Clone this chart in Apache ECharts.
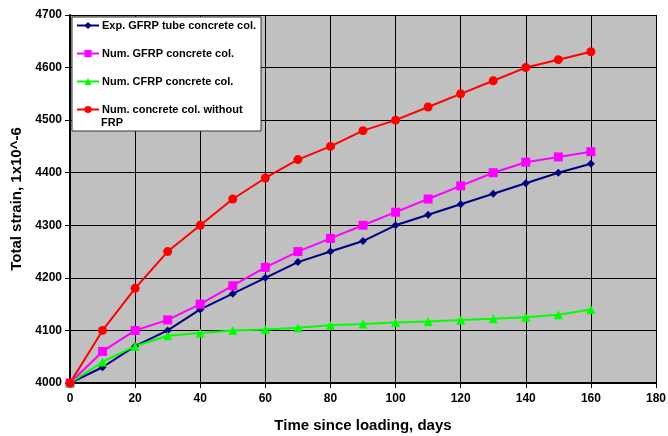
<!DOCTYPE html>
<html>
<head>
<meta charset="utf-8">
<script src="https://cdn.jsdelivr.net/npm/echarts@6/dist/echarts.min.js"></script>
<style>html,body{margin:0;padding:0;background:#fff;}#c{width:668px;height:436px;}</style>
</head>
<body>
<div id="c"></div>
<script>
const days = [0,10,20,30,40,50,60,70,80,90,100,110,120,130,140,150,160];
const expGFRP = [4000,4030,4070,4100,4140,4170,4200,4230,4250,4270,4300,4320,4340,4360,4380,4400,4417];
const numGFRP = [4000,4060,4100,4120,4150,4185,4220,4250,4275,4300,4325,4350,4375,4400,4420,4430,4440];
const numCFRP = [4000,4040,4070,4090,4095,4100,4102,4105,4110,4112,4115,4117,4120,4122,4125,4130,4140];
const numNoFRP = [4000,4100,4180,4250,4300,4350,4390,4425,4450,4480,4500,4525,4550,4575,4600,4615,4630];
const seriesNames = ['Exp. GFRP tube concrete col.','Num. GFRP concrete col.','Num. CFRP concrete col.','Num. concrete col. without'];
const font = 'Liberation Sans, Arial, sans-serif';

function pairs(vals){ return days.map((d,i)=>[d, vals[i]]); }

const chart = echarts.init(document.getElementById('c'), null, {renderer:'canvas'});
const mk = (name, vals, color, symbol, size) => ({
  name, type:'line', data: pairs(vals), symbol, symbolSize: size,
  lineStyle:{color, width:2}, itemStyle:{color}, animation:false
});
chart.setOption({
  animation:false,
  backgroundColor:'#fff',
  grid:{left:70, right:12, top:15, bottom:53, show:true, backgroundColor:'#C0C0C0', borderWidth:0,
    containLabel:false, outerBoundsMode:'none'},
  xAxis:{type:'value', min:0, max:180, interval:20,
    name:'Time since loading, days', nameLocation:'middle', nameGap:35,
    nameTextStyle:{fontFamily:font, fontWeight:'bold', fontSize:15, color:'#000'},
    axisLine:{show:true, lineStyle:{color:'#000', width:2}},
    axisTick:{show:true, length:5, lineStyle:{color:'#000'}},
    axisLabel:{fontFamily:font, fontWeight:'bold', fontSize:12, color:'#000', margin:10},
    splitLine:{show:true, lineStyle:{color:'#000', width:1}}},
  yAxis:{type:'value', min:4000, max:4700, interval:100,
    name:'Total strain, 1x10^-6', nameLocation:'middle', nameGap:41,
    nameTextStyle:{fontFamily:font, fontWeight:'bold', fontSize:15, color:'#000'},
    axisLine:{show:true, lineStyle:{color:'#000', width:2}},
    axisTick:{show:true, length:5, lineStyle:{color:'#000'}},
    axisLabel:{fontFamily:font, fontWeight:'bold', fontSize:12, color:'#000', margin:8,
      formatter: v => String(v)},
    splitLine:{show:true, lineStyle:{color:'#000', width:1}}},
  legend:{orient:'vertical', left:72, top:17, itemGap:17, itemWidth:22, itemHeight:9,
    backgroundColor:'#fff', borderColor:'#333', borderWidth:1, padding:[3,5,16,4],
    textStyle:{fontFamily:font, fontWeight:'bold', fontSize:11, color:'#000', padding:[0,0,0,-2]},
    data: seriesNames},
  graphic:[{type:'text', left:101, top:117, z:100,
    style:{text:'FRP', font:'bold 11px Liberation Sans, Arial, sans-serif', fill:'#000'}}],
  series:[
    mk(seriesNames[0], expGFRP, '#000080', 'diamond', 8),
    mk(seriesNames[1], numGFRP, '#FF00FF', 'rect', 9),
    mk(seriesNames[2], numCFRP, '#00FF00', 'triangle', 9),
    mk(seriesNames[3], numNoFRP, '#FF0000', 'circle', 9)
  ]
});
</script>
</body>
</html>
